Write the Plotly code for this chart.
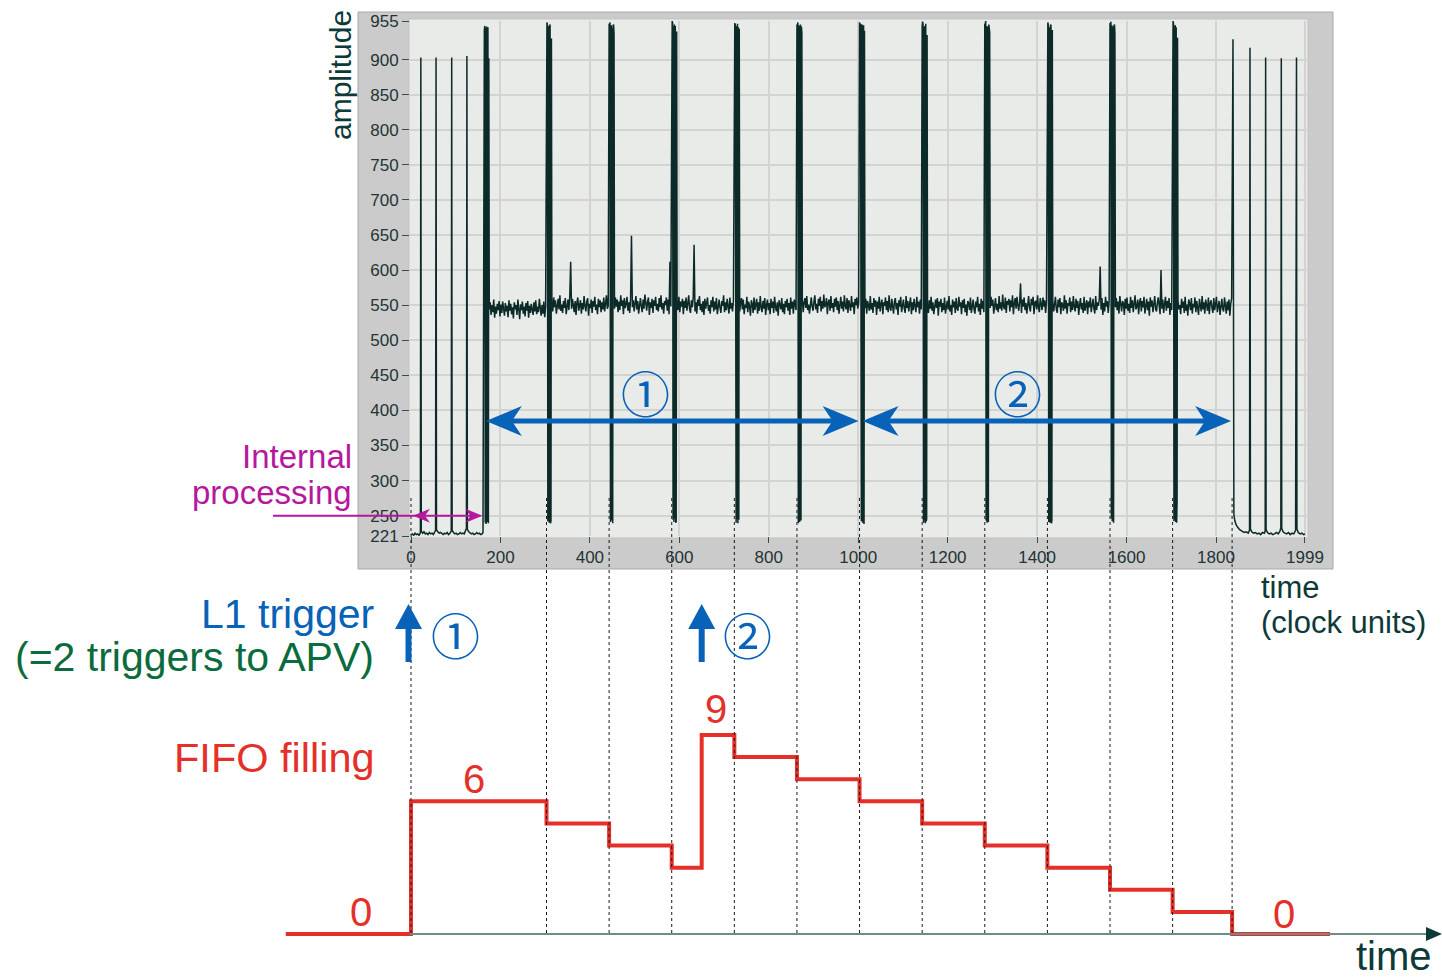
import plotly.graph_objects as go

# ------------------------------------------------------------------ data
Y_TICKS = [221, 250, 300, 350, 400, 450, 500, 550, 600, 650, 700, 750, 800, 850, 900, 955]
X_TICKS = [0, 200, 400, 600, 800, 1000, 1200, 1400, 1600, 1800, 1999]

TRIGGERS = [0, 650]                       # L1 trigger times (clock units)
FRAME_STARTS = [163, 303, 443, 583, 723, 863, 1003, 1143, 1283, 1423, 1563, 1703]
READOUT_END = 1836

# FIFO filling (step values)
FIFO_T = [-280, 0, 303, 443, 583, 650, 723, 863, 1003, 1143, 1283, 1423, 1563, 1703, 1836, 2055]
FIFO_N = [0, 6, 5, 4, 3, 9, 8, 7, 6, 5, 4, 3, 2, 1, 0, 0]

# idle signal before the first frame (sync ticks every 35 clocks)
PRE_T = [0, 3, 6, 9, 12, 15, 18, 21, 22, 23, 26, 29, 32, 35, 38, 41, 44, 47, 50, 53, 55, 56, 57,
         60, 63, 66, 69, 72, 75, 78, 81, 84, 87, 90, 91, 92, 95, 98, 101, 104, 107, 110, 113, 116,
         119, 122, 124, 125, 126, 129, 132, 135, 138, 141, 144, 147, 150, 153, 156, 159, 161]
PRE_V = [223, 224, 222, 225, 223, 224, 222, 226, 903, 228, 225, 227, 224, 225, 223, 226, 224, 225,
         223, 226, 229, 903, 230, 227, 225, 226, 224, 223, 225, 224, 226, 223, 225, 228, 903, 229,
         226, 224, 225, 223, 224, 226, 224, 225, 224, 229, 232, 905, 231, 227, 226, 224, 225, 223,
         224, 226, 224, 225, 223, 224, 226]

# idle signal after the last frame
POST_T = [1838, 1839, 1840, 1842, 1845, 1849, 1853, 1858, 1863, 1868, 1872, 1875, 1876, 1877, 1880,
          1884, 1888, 1892, 1896, 1900, 1904, 1908, 1910, 1911, 1912, 1915, 1919, 1923, 1927, 1931,
          1935, 1939, 1943, 1945, 1946, 1947, 1950, 1954, 1958, 1962, 1966, 1970, 1974, 1978, 1980,
          1981, 1984, 1988, 1992, 1996, 1999]
POST_V = [929, 400, 252, 243, 237, 233, 230, 228, 226, 227, 225, 229, 917, 231, 227, 225, 226, 224,
          225, 223, 226, 225, 228, 903, 230, 226, 224, 225, 223, 224, 226, 224, 228, 233, 902, 232,
          227, 225, 224, 226, 223, 225, 224, 229, 903, 231, 226, 224, 225, 223, 224]

# digital part of each frame: 3 header bits, 8 address bits, 1 error bit
FRAME_DIGITAL = [
    [915, 942, 948, 240, 945, 238, 947, 241, 244, 946, 239, 902],
    [946, 953, 950, 242, 948, 244, 240, 947, 950, 239, 243, 930],
    [951, 948, 953, 241, 246, 949, 243, 945, 239, 948, 950, 936],
    [949, 955, 952, 244, 947, 241, 950, 246, 948, 240, 242, 940],
    [945, 952, 950, 243, 240, 948, 245, 951, 239, 946, 244, 944],
    [950, 947, 953, 239, 949, 246, 241, 944, 950, 243, 947, 938],
    [953, 949, 951, 245, 242, 950, 947, 240, 244, 949, 238, 941],
    [948, 954, 950, 240, 946, 243, 948, 239, 951, 242, 245, 935],
    [951, 950, 955, 243, 948, 240, 245, 947, 241, 950, 946, 939],
    [947, 953, 949, 241, 244, 946, 240, 950, 948, 239, 243, 942],
    [952, 948, 954, 246, 949, 242, 947, 243, 240, 948, 950, 937],
    [950, 955, 951, 242, 247, 944, 949, 241, 946, 240, 272, 931],
]

# analog pedestal level of each frame
FRAME_BASE = [546, 550, 551, 550, 549, 551, 550, 549, 551, 550, 550, 549]

# analog samples of each frame (offset from pedestal, one every 2 clocks)
FRAME_NOISE = [
    [-2, 8, -10, 4, -6, 12, -14, 2, -8, 6, -3, 10, -12, 5, -7, 9, -1, -11, 7, -5, 3, -13, 11, -4, 6, -9, 1, -15, 8, -2, 4, -10,
     12, -6, -16, 5, -3, 9, -8, 2, -12, 7, -4, 10, -14, 3, -7, 6, -1, -10, 8, -5, 11, -9, 2, -6, 13, -3, -11, 4, -8, 9, -13, 1],
    [5, -9, 11, -3, 7, -12, 2, 9, -6, 14, -8, 1, -11, 6, -4, 10, -13, 3, 8, -7, 12, 62, -5, 9, -2, -10, 6, -14, 4, 11, -8, 0,
     7, -12, 3, -6, 13, -1, -9, 5, 10, -15, 2, -4, 8, -11, 6, -2, 12, -7, 1, -13, 9, -3, 7, -10, 4, -6, 11, -9, 3, 14, -5, -1],
    [-6, 10, -3, 7, -11, 4, -8, 13, -2, 6, -14, 9, -5, 1, 11, -9, 3, -12, 8, 98, -4, 6, -10, 2, 12, -7, 5, -13, 0, 9, -3, -11,
     7, -6, 14, -1, -9, 4, 10, -15, 3, -5, 8, -12, 6, -2, 11, -8, 1, -10, 9, -4, 13, -7, 2, -13, 5, -1, 10, -9, 7, -14, 61, -3],
    [3, -7, 12, -10, 5, -2, 9, -13, 6, -4, 11, -8, 1, 14, -6, -11, 7, -3, 10, 86, -9, 4, -12, 8, -1, 13, -7, 2, -10, 6, -14, 9,
     -5, 3, 11, -8, 0, -12, 7, -3, 12, -9, 5, -6, 10, -13, 2, 8, -4, -11, 6, -1, 14, -10, 4, -7, 9, -2, -12, 11, -5, 3, -9, 7],
    [-8, 4, 11, -5, 9, -12, 2, -3, 13, -9, 6, -1, -14, 8, 3, -10, 12, -6, 0, 10, -11, 5, -7, 14, -2, -9, 7, -4, 11, -13, 1, 9,
     -6, 4, -12, 10, -3, 6, -10, 13, -1, -8, 5, -14, 8, 2, -5, 11, -9, 3, -12, 7, -2, 10, -7, 4, -13, 12, -4, 6, -11, 9, -1, -6],
    [7, -11, 3, 9, -5, 12, -8, 0, -13, 6, 10, -3, -9, 4, 13, -7, 1, -12, 8, -2, 11, -10, 5, -6, 14, -4, -1, 9, -14, 3, 7, -9,
     12, -5, 2, -11, 8, -3, 10, -8, 5, -13, 1, 11, -6, 4, -10, 13, -2, -7, 9, -12, 6, 0, -9, 12, -4, 3, -14, 8, -1, 10, -6, 2],
    [-4, 9, -12, 6, 1, -8, 13, -6, 3, -11, 10, -2, 7, -14, 5, -5, 12, -9, 2, 8, -13, 4, -1, 11, -7, 6, -10, 14, -3, -8, 9, 0,
     -12, 5, 10, -6, 3, -14, 7, -2, 12, -10, 1, 8, -5, -11, 13, -4, 6, -9, 2, 11, -13, 4, -7, 9, -1, -10, 12, -3, 5, -12, 8, -6],
    [2, -10, 8, -4, 13, -7, 5, -12, 0, 9, -3, 11, -14, 6, -1, 10, -9, 4, -6, 12, -11, 3, 7, -5, 14, -8, 1, -13, 9, -2, 6, -10,
     11, -4, -7, 13, -1, 5, -12, 8, -3, 10, -9, 2, -14, 7, 4, -6, 12, -10, 1, 9, -5, -11, 6, -2, 13, -8, 3, -13, 10, -4, 7, -9],
    [-5, 11, -2, 7, -13, 4, 9, -8, 1, -11, 12, -6, 3, -9, 14, -3, -7, 10, -12, 5, 0, 8, -10, 6, -4, 13, -14, 2, 9, -6, 11, -1,
     -9, 4, 30, -12, 7, -3, 10, -8, 2, -13, 6, 12, -5, -10, 8, -1, 11, -14, 3, 5, -7, 13, -4, -11, 9, 1, -8, 10, -3, 6, -12, 4],
    [6, -9, 2, 12, -6, -11, 8, -3, 10, -13, 4, 1, -8, 14, -5, 7, -12, 3, -1, 11, -10, 5, -7, 13, -2, -9, 9, -4, 6, -14, 0, 10,
     -6, 3, -11, 12, -8, 2, 7, -13, 5, -3, 11, -10, 1, 9, -5, -12, 13, -7, 4, -1, 8, 55, -6, 10, -14, 3, -9, 12, -2, 6, -11, 5],
    [-3, 10, -7, 5, -12, 13, -1, -9, 6, 3, -14, 9, -5, 11, -8, 2, -11, 12, -4, 7, -10, 1, 14, -6, -2, 8, -13, 4, 10, -9, 6, -3,
     12, -12, 0, 9, -7, 5, -15, 11, -2, 7, -10, 3, 13, -6, -9, 4, 11, -1, -13, 50, -5, 8, -11, 2, 12, -8, 6, -4, 10, -14, 3, -7],
    [8, -5, 1, -12, 10, -3, 6, -10, 13, -7, 2, -14, 9, 4, -6, 11, -11, 3, -2, 12, -9, 7, -4, -13, 10, 0, -8, 14, -5, 5, -11, 9,
     -1, -7, 12, -12, 4, 8, -3, -10, 11, -6, 2, 13, -9, -2, 7, -13, 5, 10, -4, -8, 12, 1, -11, 6, -6, 9, -14, 3, 11, -7, 4, -9],
]

# ------------------------------------------------------------------ geometry
W, H = 1442, 978
X0, SX = 411.0, 0.44722          # pixel of t=0, pixels per clock
A_PY0, SA = 536.0, 515.0 / 734.0  # pixel of amplitude 221, pixels per amplitude unit
N_PY0, SN = 934.0, 22.12          # pixel of FIFO level 0, pixels per FIFO level

def px_t(t):
    return X0 + t * SX

def py_a(a):
    return A_PY0 - (a - 221) * SA

def P(px, py):
    return px / W, 1 - py / H

def path(points):
    s = ""
    for i, (x, y) in enumerate(points):
        u, v = P(x, y)
        s += ("M" if i == 0 else "L") + f"{u:.5f},{v:.5f} "
    return s + "Z"

# ------------------------------------------------------------------ signal trace
T, V = list(PRE_T), list(PRE_V)
for k, s in enumerate(FRAME_STARTS):
    for j, v in enumerate(FRAME_DIGITAL[k]):
        T.append(s + j)
        V.append(v)
    for i, d in enumerate(FRAME_NOISE[k]):
        t = s + 12 + 2 * i
        if t > READOUT_END:
            break
        T.append(t)
        V.append(FRAME_BASE[k] + d)
T += POST_T
V += POST_V

DARK = "#0b2a28"
TEXT_DARK = "#0d3a38"
BLUE = "#0862b8"
GREEN = "#0a6b3c"
RED = "#e5302a"
MAGENTA = "#b5179e"

fig = go.Figure()
fig.add_trace(go.Scatter(x=T, y=V, mode="lines", line=dict(color=DARK, width=1.5),
                         xaxis="x", yaxis="y", hoverinfo="skip", showlegend=False))
fig.add_trace(go.Scatter(x=FIFO_T, y=FIFO_N, mode="lines", line=dict(color=RED, width=4, shape="hv"),
                         xaxis="x2", yaxis="y2", hoverinfo="skip", showlegend=False))

tickfont = dict(family="Liberation Sans", size=17, color="#243434")
fig.update_layout(
    width=W, height=H, margin=dict(l=0, r=0, t=0, b=0), autosize=False,
    paper_bgcolor="white", plot_bgcolor="rgba(0,0,0,0)", showlegend=False,
    xaxis=dict(domain=[410 / W, 1307 / W], range=[(410 - X0) / SX, (1307 - X0) / SX],
               tickvals=X_TICKS, ticktext=[str(v) for v in X_TICKS], ticks="outside", ticklen=6,
               tickcolor="#3b4b4b", tickwidth=1.2, tickfont=tickfont, showgrid=True,
               gridcolor="#d3d4d2", gridwidth=2, zeroline=False, showline=False, anchor="y",
               fixedrange=True, automargin=False),
    yaxis=dict(domain=[1 - 536 / H, 1 - 21 / H], range=[221, 955],
               tickvals=Y_TICKS, ticktext=[str(v) for v in Y_TICKS], ticks="outside", ticklen=7,
               tickcolor="#3b4b4b", tickwidth=1.2, tickfont=tickfont, showgrid=True,
               gridcolor="#d3d4d2", gridwidth=2, zeroline=False, showline=False, anchor="x",
               fixedrange=True, automargin=False),
    xaxis2=dict(domain=[0, 1], range=[-X0 / SX, (W - X0) / SX], visible=False, anchor="y2",
                fixedrange=True),
    yaxis2=dict(domain=[0, 1], range=[(N_PY0 - H) / SN, N_PY0 / SN], visible=False, anchor="x2",
                fixedrange=True),
)

shapes = []
# outer grey frame and inner panel
shapes.append(dict(type="rect", xref="paper", yref="paper", x0=358 / W, x1=1333 / W,
                   y0=1 - 569 / H, y1=1 - 12 / H, fillcolor="#cbcbcb",
                   line=dict(color="#a9a9a9", width=1), layer="below"))
shapes.append(dict(type="rect", xref="paper", yref="paper", x0=409 / W, x1=1308 / W,
                   y0=1 - 538 / H, y1=1 - 19 / H, fillcolor="#e9ebe8",
                   line=dict(color="#c2c2c2", width=1), layer="below"))

# dotted guide lines (trigger 1, frame boundaries, end of readout)
for t in [TRIGGERS[0]] + FRAME_STARTS[1:] + [READOUT_END]:
    x = px_t(t) / W
    shapes.append(dict(type="line", xref="paper", yref="paper", x0=x, x1=x,
                       y0=1 - 498 / H, y1=1 - 934 / H, line=dict(color="#1a1a1a", width=1, dash="dot")))

# time axis of the lower panel
shapes.append(dict(type="line", xref="paper", yref="paper", x0=410 / W, x1=1428 / W,
                   y0=1 - 934 / H, y1=1 - 934 / H, line=dict(color="#6e8c8a", width=2)))
shapes.append(dict(type="path", path=path([(1442, 934), (1426, 927), (1426, 941)]),
                   xref="paper", yref="paper", fillcolor="#0d3a38", line=dict(width=0)))

# blue double arrows (readout of trigger 1 and trigger 2)
ya = 421
segs = [(px_t(FRAME_STARTS[0]) + 2, px_t(FRAME_STARTS[6]) - 1),
        (px_t(FRAME_STARTS[6]) + 3, px_t(READOUT_END) - 1)]
for (xa, xb) in segs:
    u0, v0 = P(xa + 20, ya)
    u1, v1 = P(xb - 20, ya)
    shapes.append(dict(type="line", xref="paper", yref="paper", x0=u0, x1=u1, y0=v0, y1=v1,
                       line=dict(color=BLUE, width=5)))
    shapes.append(dict(type="path", xref="paper", yref="paper", fillcolor=BLUE, line=dict(width=0),
                       path=path([(xa, ya), (xa + 36, ya - 15), (xa + 26, ya), (xa + 36, ya + 15)])))
    shapes.append(dict(type="path", xref="paper", yref="paper", fillcolor=BLUE, line=dict(width=0),
                       path=path([(xb, ya), (xb - 36, ya - 15), (xb - 26, ya), (xb - 36, ya + 15)])))

# magenta "internal processing" arrow
ym = py_a(250)
xl, xr = px_t(TRIGGERS[0]) + 2, px_t(FRAME_STARTS[0]) - 1.5
u0, v0 = P(273, ym)
u1, v1 = P(xr - 8, ym)
shapes.append(dict(type="line", xref="paper", yref="paper", x0=u0, x1=u1, y0=v0, y1=v1,
                   line=dict(color=MAGENTA, width=2)))
shapes.append(dict(type="path", xref="paper", yref="paper", fillcolor=MAGENTA, line=dict(width=0),
                   path=path([(xl, ym), (xl + 17, ym - 7), (xl + 12, ym), (xl + 17, ym + 7)])))
shapes.append(dict(type="path", xref="paper", yref="paper", fillcolor=MAGENTA, line=dict(width=0),
                   path=path([(xr, ym), (xr - 17, ym - 7), (xr - 12, ym), (xr - 17, ym + 7)])))

# blue up arrows at the L1 triggers
for t, dx in zip(TRIGGERS, [-2.5, 0]):
    xc = px_t(t) + dx
    u0, v0 = P(xc, 662)
    u1, v1 = P(xc, 627)
    shapes.append(dict(type="line", xref="paper", yref="paper", x0=u0, x1=u1, y0=v0, y1=v1,
                       line=dict(color=BLUE, width=6)))
    shapes.append(dict(type="path", xref="paper", yref="paper", fillcolor=BLUE, line=dict(width=0),
                       path=path([(xc, 604), (xc + 13.5, 629), (xc - 13.5, 629)])))

fig.update_layout(shapes=shapes)

ann = []
def text(s, px, py, size, color, xanchor="center", family="Liberation Sans", angle=0):
    u, v = P(px, py)
    ann.append(dict(text=s, x=u, y=v, xref="paper", yref="paper", showarrow=False,
                    xanchor=xanchor, yanchor="middle", textangle=angle,
                    font=dict(family=family, size=size, color=color)))

text("amplitude", 340, 75, 30, TEXT_DARK, angle=-90)
text("Internal", 354, 456, 33, MAGENTA, xanchor="right")
text("processing", 354, 492, 33, MAGENTA, xanchor="right")
text("①", 645, 391, 49, BLUE, family="Noto Sans CJK JP")
text("②", 1017, 391, 49, BLUE, family="Noto Sans CJK JP")
text("time", 1259, 587, 31, TEXT_DARK, xanchor="left")
text("(clock units)", 1259, 622, 31, TEXT_DARK, xanchor="left")
text("L1 trigger", 376, 614, 41, BLUE, xanchor="right")
text("(=2 triggers to APV)", 376, 657, 41, GREEN, xanchor="right")
text("①", 455, 633, 49, BLUE, family="Noto Sans CJK JP")
text("②", 747, 633, 49, BLUE, family="Noto Sans CJK JP")
text("FIFO filling", 377, 757, 41.5, RED, xanchor="right")
text("6", 474, 779, 40, RED)
text("9", 716, 709, 40, RED)
text("0", 361, 912, 40, RED)
text("0", 1284, 914, 40, RED)
text("time", 1394, 956, 40, TEXT_DARK)
fig.update_layout(annotations=ann)

fig.write_html(
    "out.html",
    config={"displayModeBar": False},
    post_script="document.body.style.margin='0px';document.body.style.overflow='hidden';"
                "document.documentElement.style.overflow='hidden';",
)
